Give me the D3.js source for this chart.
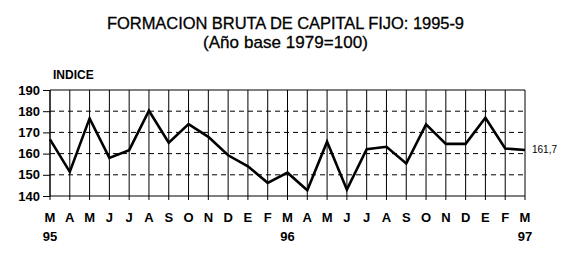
<!DOCTYPE html>
<html>
<head>
<meta charset="utf-8">
<script src="https://cdn.jsdelivr.net/npm/d3@7"></script>
<style>
  body { margin: 0; background: #fff; }
  svg { display: block; font-family: "Liberation Sans", Arial, sans-serif; }
</style>
</head>
<body>
<div id="chart"></div>
<script>
// data
const months = ["M", "A", "M", "J", "J", "A", "S", "O", "N", "D", "E", "F",
                "M", "A", "M", "J", "J", "A", "S", "O", "N", "D", "E", "F", "M"];
const years = ["95", "", "", "", "", "", "", "", "", "", "", "",
               "96", "", "", "", "", "", "", "", "", "", "", "", "97"];
const indice = [166.7, 151.4, 176.6, 158.0, 161.6, 180.2, 165.1, 173.9, 167.9, 159.2, 154.0, 146.2,
                151.0, 142.7, 165.6, 143.0, 162.1, 163.2, 155.3, 173.8, 164.6, 164.6, 176.9, 162.4, 161.7];
const yTicks = [140, 150, 160, 170, 180, 190];
const lastLabel = "161,7";

const W = 571, H = 253;
const margin = {top: 90, right: 46, bottom: 57, left: 50};
const width = W - margin.left - margin.right;
const height = H - margin.top - margin.bottom;

const svg = d3.select("#chart").append("svg")
    .attr("width", W)
    .attr("height", H);

// titles
svg.append("text")
    .attr("x", 107).attr("y", 29)
    .attr("textLength", 357)
    .attr("lengthAdjust", "spacing")
    .style("font-size", "16.5px")
    .style("stroke", "#000").style("stroke-width", 0.3)
    .text("FORMACION BRUTA DE CAPITAL FIJO: 1995-9");
svg.append("text")
    .attr("x", 203).attr("y", 48)
    .attr("textLength", 165)
    .attr("lengthAdjust", "spacing")
    .style("font-size", "17px")
    .style("stroke", "#000").style("stroke-width", 0.3)
    .text("(Año base 1979=100)");

const g = svg.append("g")
    .attr("transform", `translate(${margin.left}, ${margin.top})`);

g.append("text")
    .attr("x", 3).attr("y", -11)
    .style("font-size", "12px")
    .style("font-weight", "bold")
    .text("INDICE");

const x = d3.scaleLinear()
    .domain([0, months.length - 1])
    .range([0, width]);

const y = d3.scaleLinear()
    .domain([140, 190])
    .range([height, 0]);

// dashed horizontal gridlines
g.selectAll(".hgrid")
    .data(yTicks.filter(d => d > 140 && d < 190))
    .enter().append("line")
    .attr("class", "hgrid")
    .attr("x1", 0).attr("x2", width)
    .attr("y1", d => y(d)).attr("y2", d => y(d))
    .attr("stroke", "#000")
    .attr("stroke-dasharray", "5,4");

// vertical gridlines
g.selectAll(".vgrid")
    .data(d3.range(months.length))
    .enter().append("line")
    .attr("class", "vgrid")
    .attr("x1", d => x(d)).attr("x2", d => x(d))
    .attr("y1", 0).attr("y2", height + 4)
    .attr("stroke", "#000");

// top border
g.append("line")
    .attr("x1", 0).attr("x2", width)
    .attr("y1", 0).attr("y2", 0)
    .attr("stroke", "#000");

// y axis
const yAxis = d3.axisLeft(y).tickValues(yTicks).tickSize(7).tickPadding(3);
const ya = g.append("g").attr("class", "y-axis axis").call(yAxis);
ya.select(".domain").remove();
ya.append("line").attr("x1", 0).attr("x2", 0).attr("y1", 0).attr("y2", height).attr("stroke", "#000");
ya.selectAll("text")
    .style("font-size", "13px")
    .style("font-weight", "bold")
    .style("font-family", "Liberation Sans, Arial, sans-serif")
    .attr("fill", "#000");
ya.selectAll(".tick line").attr("stroke", "#000");

// x axis
const xa = g.append("g")
    .attr("class", "x-axis axis")
    .attr("transform", `translate(0, ${height})`);
xa.append("line").attr("x1", 0).attr("x2", width).attr("stroke", "#000");
xa.selectAll(".mlab")
    .data(months)
    .enter().append("text")
    .attr("x", (d, i) => x(i))
    .attr("y", 26)
    .attr("text-anchor", "middle")
    .style("font-size", "13px")
    .style("font-weight", "bold")
    .text(d => d);
xa.selectAll(".ylab")
    .data(years)
    .enter().append("text")
    .attr("x", (d, i) => x(i))
    .attr("y", 45)
    .attr("text-anchor", "middle")
    .style("font-size", "13px")
    .style("font-weight", "bold")
    .text(d => d);

// data line
const line = d3.line()
    .x((d, i) => x(i))
    .y(d => y(d));

g.append("path")
    .datum(indice)
    .attr("fill", "none")
    .attr("stroke", "#000")
    .attr("stroke-width", 2.6)
    .attr("stroke-linejoin", "miter")
    .attr("d", line);

g.append("text")
    .attr("x", width + 7)
    .attr("y", y(indice[indice.length - 1]) + 3)
    .style("font-size", "10px")
    .text(lastLabel);
</script>
</body>
</html>
